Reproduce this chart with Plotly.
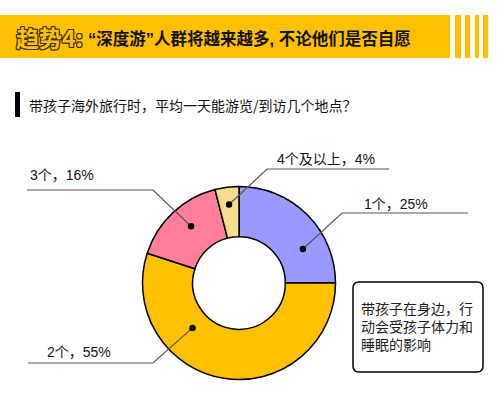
import math
import plotly.graph_objects as go

# ---- data ----
categories = ["1个", "2个", "3个", "4个及以上"]
values = [25, 55, 16, 4]
colors = ["#9999FF", "#FFC000", "#FF7F98", "#F5DD8E"]

title_lead = "趋势4:"
title_rest = "“深度游”人群将越来越多, 不论他们是否自愿"
subtitle = "带孩子海外旅行时，平均一天能游览/到访几个地点？"
note_lines = ["带孩子在身边，行", "动会受孩子体力和", "睡眠的影响"]

# ---- layout config (pixels) ----
W, H = 500, 412
CX, CY, R = 239, 283, 96.5
HOLE = 0.48
FONT = "Noto Sans CJK SC"
MIXED = "Liberation Sans, Noto Sans CJK SC"

# leader anchors: angle offset from slice mid (deg), radius fraction
anchor_cfg = [(17, 0.75), (37, 0.67), (3, 0.77), (0, 0.82)]
# elbow point, horizontal end x, text x, text y
label_cfg = [
    ((342, 213), 468, 362, 204),
    ((153, 363), 28, 45, 352),
    ((153, 190), 27, 28, 175),
    ((267, 169), 389, 275, 159),
]

fig = go.Figure()

fig.add_trace(go.Pie(
    labels=categories, values=values, sort=False, direction="clockwise",
    rotation=0, hole=HOLE, textinfo="none", hoverinfo="label+percent",
    marker=dict(colors=colors, line=dict(color="#000000", width=1.5)),
    domain=dict(x=[(CX - R) / W, (CX + R) / W],
                y=[(H - CY - R) / H, (H - CY + R) / H]),
    showlegend=False,
))
# invisible trace to activate cartesian axes
fig.add_trace(go.Scatter(x=[0, W], y=[0, H], mode="markers",
                         marker=dict(opacity=0), hoverinfo="skip", showlegend=False))

shapes = []
total = sum(values)
cum = 0
for i, v in enumerate(values):
    mid = (cum + v / 2) / total * 360
    cum += v
    off, rf = anchor_cfg[i]
    a = math.radians(mid + off)
    dx = CX + rf * R * math.sin(a)
    dy = CY - rf * R * math.cos(a)
    (ex, ey), hx, tx, ty = label_cfg[i]
    shapes.append(dict(type="path", xref="x", yref="y", layer="above",
                       path=f"M {dx},{dy} L {ex},{ey} L {hx},{ey}",
                       line=dict(color="#555555", width=1.2)))
    rd = 3.2
    shapes.append(dict(type="circle", xref="x", yref="y", layer="above",
                       x0=dx - rd, x1=dx + rd, y0=dy - rd, y1=dy + rd,
                       fillcolor="#000000", line=dict(color="#000000", width=0)))
    fig.add_annotation(x=tx, y=ty, xref="x", yref="y", text=f"{categories[i]}，{v}%",
                       showarrow=False, xanchor="left", yanchor="middle",
                       font=dict(family=MIXED, size=14, color="#111111"))

# banner
shapes.append(dict(type="rect", xref="x", yref="y", x0=0, x1=450, y0=15, y1=58,
                   fillcolor="#FFC000", line=dict(width=0), layer="below"))
for x0, x1 in [(455, 461), (465, 470), (475, 479), (483, 488)]:
    shapes.append(dict(type="rect", xref="x", yref="y", x0=x0, x1=x1, y0=15, y1=58,
                       fillcolor="#FFC000", line=dict(width=0), layer="below"))
# subtitle bar
shapes.append(dict(type="rect", xref="x", yref="y", x0=15, x1=20, y0=92, y1=117,
                   fillcolor="#000000", line=dict(width=0)))
# note box (rounded)
bx0, by0, bx1, by1, rr = 353, 282, 483, 372, 6
path = (f"M {bx0+rr},{by0} L {bx1-rr},{by0} Q {bx1},{by0} {bx1},{by0+rr} "
        f"L {bx1},{by1-rr} Q {bx1},{by1} {bx1-rr},{by1} L {bx0+rr},{by1} "
        f"Q {bx0},{by1} {bx0},{by1-rr} L {bx0},{by0+rr} Q {bx0},{by0} {bx0+rr},{by0} Z")
shapes.append(dict(type="path", xref="x", yref="y", path=path, layer="below",
                   fillcolor="#FFFFFF", line=dict(color="#000000", width=1.5)))

outline = ("1px 1px 0 #3a3000, -1px -1px 0 #3a3000, 1px -1px 0 #3a3000, "
           "-1px 1px 0 #3a3000, 0 1px 0 #3a3000, 0 -1px 0 #3a3000, "
           "1px 0 0 #3a3000, -1px 0 0 #3a3000")
fig.add_annotation(x=14, y=37, xref="x", yref="y", text=f"<b>{title_lead}</b>",
                   showarrow=False, xanchor="left", yanchor="middle",
                   font=dict(family=FONT, size=23, color="#FFC000", shadow=outline))
fig.add_annotation(x=86, y=38, xref="x", yref="y", text=f"<b>{title_rest}</b>",
                   showarrow=False, xanchor="left", yanchor="middle",
                   font=dict(family=MIXED, size=16.5, color="#111111"))
fig.add_annotation(x=27, y=105, xref="x", yref="y", text=subtitle,
                   showarrow=False, xanchor="left", yanchor="middle",
                   font=dict(family=FONT, size=14, color="#111111"))
fig.add_annotation(x=359, y=326, xref="x", yref="y", text="<br>".join(note_lines),
                   showarrow=False, xanchor="left", yanchor="middle", align="left",
                   font=dict(family=FONT, size=14, color="#222222"))

fig.update_layout(
    width=W, height=H, margin=dict(l=0, r=0, t=0, b=0),
    paper_bgcolor="#FFFFFF", plot_bgcolor="rgba(0,0,0,0)",
    xaxis=dict(range=[0, W], visible=False, fixedrange=True, domain=[0, 1]),
    yaxis=dict(range=[H, 0], visible=False, fixedrange=True, domain=[0, 1]),
    shapes=shapes,
)

fig.write_html("out.html", config={"displayModeBar": False},
               post_script="document.body.style.margin='0';")
